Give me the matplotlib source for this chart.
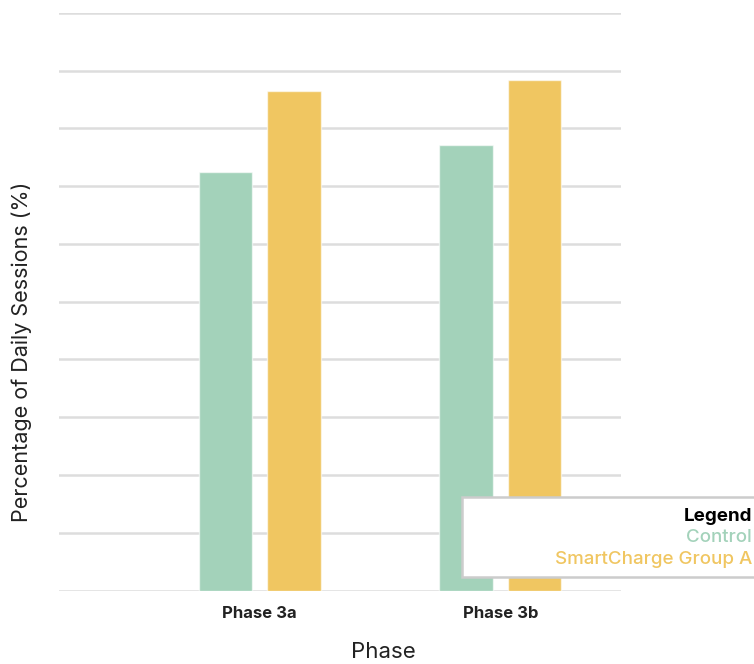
import matplotlib
matplotlib.use("Agg")
import matplotlib.pyplot as plt
import numpy as np

phases = ["Phase 3a", "Phase 3b"]
series_names = ["Control", "SmartCharge Group A"]
control = [72.4, 77.1]
smartcharge = [86.5, 88.4]
colors = ["#a3d2ba", "#f0c661"]

plt.rcParams["font.family"] = ["Inter", "DejaVu Sans"]

fig = plt.figure(figsize=(7.54, 6.64), dpi=100)
W, H = 754, 664
ax = fig.add_axes([59 / W, 1 - 590.5 / H, (620.5 - 59) / W, (590.5 - 13) / H])

x = np.arange(len(phases))
bw = 0.222
off = 0.142
for vals, color, dx in [(control, colors[0], -off), (smartcharge, colors[1], off)]:
    ax.bar(x + dx, vals, width=bw, color=color, edgecolor=(1, 1, 1, 0.6),
           linewidth=1.0, zorder=3)

ax.set_ylim(0, 100)
ax.set_yticks(np.arange(0, 101, 10))
ax.set_yticklabels([])
ax.tick_params(axis="y", length=0)
ax.grid(axis="y", color="#dddddd", linewidth=1.8, zorder=0)
ax.set_xlim(-0.834, 1.5)
ax.set_xticks(x)
ax.set_xticklabels(phases, fontsize=12, fontweight="bold", color="#222222")
ax.tick_params(axis="x", length=0, pad=11)
for s in ax.spines.values():
    s.set_visible(False)

fig.text(22 / W, 1 - 352 / H, "Percentage of Daily Sessions (%)", rotation=90,
         ha="center", va="center", fontsize=15.5, color="#222222")
fig.text(383 / W, 1 - 652 / H, "Phase", ha="center", va="center",
         fontsize=16, color="#222222")

# legend box
box = plt.Rectangle((462 / W, 1 - 576.5 / H), (760 - 462) / W, (576.5 - 497) / H,
                    transform=fig.transFigure, facecolor="white",
                    edgecolor="#cccccc", linewidth=1.8, zorder=5)
fig.add_artist(box)
fig.text(752 / W, 1 - 521 / H, "Legend", ha="right", va="baseline",
         fontsize=13.5, fontweight="bold", color="black", zorder=6)
fig.text(752 / W, 1 - 542.5 / H, series_names[0], ha="right", va="baseline",
         fontsize=13.5, fontweight="medium", color=colors[0], zorder=6)
fig.text(752 / W, 1 - 564 / H, series_names[1], ha="right", va="baseline",
         fontsize=13.5, fontweight="medium", color=colors[1], zorder=6)

fig.savefig("out.png", dpi=100)
